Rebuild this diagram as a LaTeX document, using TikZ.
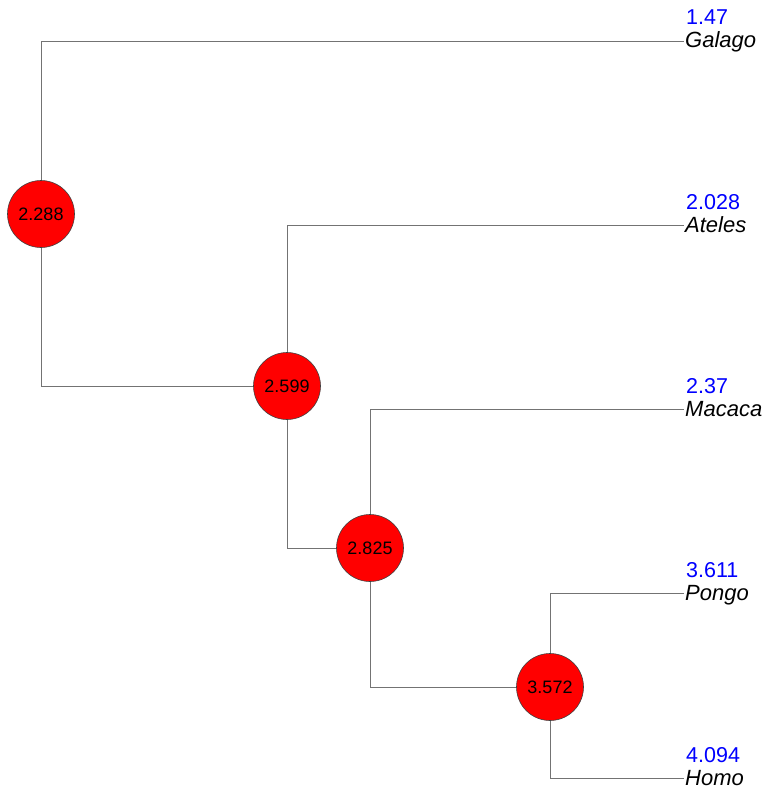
\documentclass[tikz,border=0pt]{standalone}
\usepackage{fontspec}
\setmainfont{Liberation Sans}

\begin{document}
\begin{tikzpicture}[x=1pt,y=-1pt,
	edge/.style={draw=black!55,line width=0.9pt},
	inner/.style={circle,draw=black!75,line width=0.6pt,fill=red,minimum size=67pt,inner sep=0pt,font=\fontsize{18}{18}\selectfont},
	taxon/.style={anchor=base west,inner sep=0pt,font=\fontsize{22}{22}\selectfont\itshape},
	score/.style={anchor=base west,inner sep=0pt,text=blue,font=\fontsize{21.5}{21.5}\selectfont}]
\useasboundingbox (0,0) rectangle (775,800);
%internal nodes
	\node[inner] (r2288) at (41,214) {2.288};
	\node[inner] (r2599) at (287,386) {2.599};
	\node[inner] (r2825) at (370,548) {2.825};
	\node[inner] (r3572) at (550,687) {3.572};
%tips
	\coordinate (tGalago) at (684,41);
	\coordinate (tAteles) at (684,225);
	\coordinate (tMacaca) at (684,409);
	\coordinate (tPongo) at (684,593);
	\coordinate (tHomo) at (684,778);
%branches
	\draw[edge] (r2288) |- (tGalago);
	\draw[edge] (r2288) |- (r2599);
	\draw[edge] (r2599) |- (tAteles);
	\draw[edge] (r2599) |- (r2825);
	\draw[edge] (r2825) |- (tMacaca);
	\draw[edge] (r2825) |- (r3572);
	\draw[edge] (r3572) |- (tPongo);
	\draw[edge] (r3572) |- (tHomo);
%labels
	\node[taxon] (Galago) at (685,48) {Galago};
	\node[taxon] (Ateles) at (685,232) {Ateles};
	\node[taxon] (Macaca) at (685,416) {Macaca};
	\node[taxon] (Pongo) at (685,600) {Pongo};
	\node[taxon] (Homo) at (685,785) {Homo};
	\node[score] (sGalago) at (686,25) {1.47};
	\node[score] (sAteles) at (686,209) {2.028};
	\node[score] (sMacaca) at (686,393) {2.37};
	\node[score] (sPongo) at (686,577) {3.611};
	\node[score] (sHomo) at (686,762) {4.094};
\end{tikzpicture}
\end{document}
